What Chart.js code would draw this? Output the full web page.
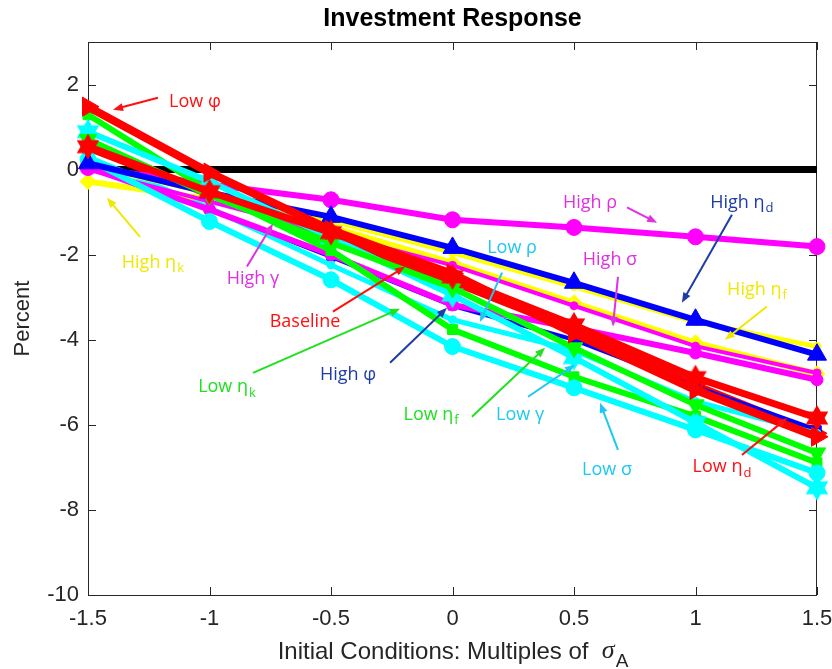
<!DOCTYPE html>
<html>
<head>
<meta charset="utf-8">
<title>Investment Response</title>
<script src="https://cdn.jsdelivr.net/npm/chart.js@4.4.1/dist/chart.umd.min.js"></script>
<style>
  html, body { margin: 0; padding: 0; background: #fff; }
  #wrap { width: 832px; height: 669px; }
</style>
</head>
<body>
<div id="wrap"><canvas id="invChart"></canvas></div>
<script>
// Initial conditions: multiples of sigma_A
const xValues = [-1.5, -1, -0.5, 0, 0.5, 1, 1.5];
const xTicks = [-1.5, -1, -0.5, 0, 0.5, 1, 1.5];
const yTicks = [-10, -8, -6, -4, -2, 0, 2];

// Investment response (percent), one array per experiment
const baseline  = [0.54, -0.52, -1.48, -2.52, -3.65, -4.89, -5.84];
const lowPhi    = [1.48, -0.07, -1.42, -2.45, -3.85, -5.18, -6.28];
const highPhi   = [0.12, -0.94, -2.05, -3.20, -4.00, -5.10, -6.12];
const highEtaD  = [0.15, -0.54, -1.11, -1.84, -2.66, -3.53, -4.35];
const lowEtaD   = [0.50, -0.60, -1.60, -2.65, -3.78, -5.05, -6.20];
const highRho   = [0.05, -0.35, -0.71, -1.18, -1.36, -1.58, -1.81];
const lowRho    = [0.30, -0.90, -2.24, -3.53, -4.25, -5.45, -6.20];
const highSigma = [0.00, -0.75, -1.50, -2.25, -3.20, -4.15, -4.78];
const lowSigma  = [0.24, -1.22, -2.59, -4.16, -5.13, -6.12, -7.13];
const highGamma = [0.05, -0.94, -2.00, -3.18, -3.72, -4.31, -4.94];
const lowGamma  = [0.89, -0.28, -1.60, -2.95, -4.42, -5.95, -7.48];
const highEtaK  = [-0.28, -0.70, -1.35, -2.19, -3.13, -4.07, -4.80];
const lowEtaK   = [0.71, -0.60, -1.72, -2.78, -4.19, -5.53, -6.66];
const highEtaF  = [0.10, -0.55, -1.20, -1.95, -2.75, -3.58, -4.16];
const lowEtaF   = [1.29, -0.50, -1.90, -3.76, -4.87, -5.80, -6.89];
const zeroLine  = [0, 0, 0, 0, 0, 0, 0];

const RED = "#ff0000", BLUE = "#0000ff", MAG = "#ff00ff",
      CYAN = "#00ffff", YEL = "#ffff00", GRN = "#00ff00";

// filled six point star, like matlab's hexagram marker
function hexagram(color, r) {
  const s = Math.ceil(r * 2 + 2);
  const c = document.createElement("canvas");
  c.width = s; c.height = s;
  const g = c.getContext("2d");
  g.translate(s / 2, s / 2);
  g.beginPath();
  for (let i = 0; i < 12; i++) {
    const a = -Math.PI / 2 + i * Math.PI / 6;
    const rr = i % 2 ? r * 0.58 : r;
    g.lineTo(rr * Math.cos(a), rr * Math.sin(a));
  }
  g.closePath();
  g.fillStyle = color;
  g.fill();
  return c;
}

// top-most first (chart.js draws dataset 0 last)
const series = [
  { label: "Low φ",     data: lowPhi,    color: RED,  width: 8, marker: "triangle", r: 11, rot: 90 },
  { label: "Baseline",  data: baseline,  color: RED,  width: 7, marker: hexagram(RED, 13), r: 12 },
  { label: "Low ηk",    data: lowEtaK,   color: GRN,  width: 6, marker: "triangle", r: 10, rot: 180 },
  { label: "Low γ",     data: lowGamma,  color: CYAN, width: 6, marker: hexagram(CYAN, 13), r: 12 },
  { label: "High ηd",   data: highEtaD,  color: BLUE, width: 6, marker: "triangle", r: 11 },
  { label: "Low σ",     data: lowSigma,  color: CYAN, width: 6, marker: "circle", r: 8 },
  { label: "Low ηf",    data: lowEtaF,   color: GRN,  width: 6, marker: "rect", r: 7 },
  { label: "High ρ",    data: highRho,   color: MAG,  width: 6, marker: "circle", r: 8 },
  { label: "High γ",    data: highGamma, color: MAG,  width: 6, marker: "circle", r: 6 },
  { label: "High σ",    data: highSigma, color: MAG,  width: 4, marker: "circle", r: 4 },
  { label: "High ηk",   data: highEtaK,  color: YEL,  width: 6, marker: "rectRot", r: 8 },
  { label: "High ηf",   data: highEtaF,  color: YEL,  width: 5, marker: "circle", r: 4 },
  { label: "Low ρ",     data: lowRho,    color: CYAN, width: 5, marker: "circle", r: 4 },
  { label: "High φ",    data: highPhi,   color: BLUE, width: 4, marker: "rect", r: 6 },
  { label: "Low ηd",    data: lowEtaD,   color: RED,  width: 6, marker: "triangle", r: 10, rot: 90 },
  { label: "zero",      data: zeroLine,  color: "#000000", width: 7, marker: "circle", r: 0 }
];

// text labels with arrows, in data units
const notes = [
  { t: "Low φ",    c: "#ff1010", at: [-1.06, 1.60],  from: [-1.212, 1.69],  to: [-1.397, 1.41] },
  { t: "High η", s: "k", c: "#f0e800", at: [-1.233, -2.19], from: [-1.286, -1.58], to: [-1.422, -0.66] },
  { t: "High γ",   c: "#e030e0", at: [-0.821, -2.56], from: [-0.846, -2.28], to: [-0.739, -1.27] },
  { t: "Baseline", c: "#ff1010", at: [-0.607, -3.58], from: [-0.492, -3.34], to: [-0.195, -2.28] },
  { t: "Low η", s: "k",  c: "#20e020", at: [-0.928, -5.11], from: [-0.821, -4.78], to: [-0.216, -3.27] },
  { t: "High φ",   c: "#1e3ca8", at: [-0.430, -4.82], from: [-0.257, -4.54], to: [-0.023, -3.25] },
  { t: "Low ρ",    c: "#1ec8f0", at: [0.245, -1.84],  from: [0.204, -2.42],  to: [0.113, -3.58] },
  { t: "High ρ",   c: "#e030e0", at: [0.566, -0.78],  from: [0.718, -0.89],  to: [0.842, -1.25] },
  { t: "High σ",   c: "#e030e0", at: [0.648, -2.12],  from: [0.681, -2.52],  to: [0.660, -3.69] },
  { t: "High η", s: "d", c: "#1e3ca8", at: [1.191, -0.78], from: [1.150, -1.06], to: [0.944, -3.13] },
  { t: "High η", s: "f", c: "#f0e800", at: [1.253, -2.82], from: [1.294, -3.22], to: [1.121, -4.00] },
  { t: "Low η", s: "f",  c: "#20e020", at: [-0.088, -5.76], from: [0.080, -5.81], to: [0.381, -4.19] },
  { t: "Low γ",    c: "#1ec8f0", at: [0.278, -5.76],  from: [0.311, -5.34],  to: [0.504, -4.59] },
  { t: "Low σ",    c: "#1ec8f0", at: [0.636, -7.06],  from: [0.681, -6.59],  to: [0.607, -5.48] },
  { t: "Low η", s: "d",  c: "#ff1010", at: [1.109, -6.99], from: [1.191, -6.71], to: [1.377, -5.84] }
];

const AXIS = "#262626";
const SANS = "'Liberation Sans', Arial, sans-serif";
const NOTEFONT = "18px 'Open Sans', sans-serif";
const SUBFONT = "13px 'Open Sans', sans-serif";

function drawArrow(g, x1, y1, x2, y2, color) {
  const a = Math.atan2(y2 - y1, x2 - x1);
  const hl = 10, hw = 4;
  g.strokeStyle = color;
  g.fillStyle = color;
  g.lineWidth = 2;
  g.beginPath();
  g.moveTo(x1, y1);
  g.lineTo(x2 - hl * 0.8 * Math.cos(a), y2 - hl * 0.8 * Math.sin(a));
  g.stroke();
  g.beginPath();
  g.moveTo(x2, y2);
  g.lineTo(x2 - hl * Math.cos(a) + hw * Math.sin(a), y2 - hl * Math.sin(a) - hw * Math.cos(a));
  g.lineTo(x2 - hl * Math.cos(a) - hw * Math.sin(a), y2 - hl * Math.sin(a) + hw * Math.cos(a));
  g.closePath();
  g.fill();
}

const frame = {
  id: "frame",
  beforeDatasetsDraw(chart) {
    const { ctx: g, chartArea: a, scales } = chart;
    g.save();
    g.strokeStyle = AXIS;
    g.lineWidth = 1;
    g.strokeRect(a.left + 0.5, a.top + 0.5, a.right - a.left - 1, a.bottom - a.top);
    g.beginPath();
    xTicks.forEach(v => {
      const px = Math.round(scales.x.getPixelForValue(v)) + 0.5;
      g.moveTo(px, a.bottom); g.lineTo(px, a.bottom - 8);
      g.moveTo(px, a.top); g.lineTo(px, a.top + 8);
    });
    yTicks.forEach(v => {
      const py = Math.round(scales.y.getPixelForValue(v)) + 0.5;
      g.moveTo(a.left, py); g.lineTo(a.left + 8, py);
      g.moveTo(a.right, py); g.lineTo(a.right - 8, py);
    });
    g.stroke();
    g.restore();
  },
  afterDraw(chart) {
    const { ctx: g, chartArea: a, scales } = chart;
    const cx = (a.left + a.right) / 2;
    g.save();
    // title
    g.fillStyle = "#000";
    g.font = "bold 25px " + SANS;
    g.textAlign = "center";
    g.textBaseline = "middle";
    g.fillText("Investment Response", cx, 19);

    // y title
    g.fillStyle = AXIS;
    g.font = "22px " + SANS;
    g.save();
    g.translate(23, (a.top + a.bottom) / 2);
    g.rotate(-Math.PI / 2);
    g.fillText("Percent", 0, 0);
    g.restore();

    // x title with sigma_A
    const main = "Initial Conditions: Multiples of  ";
    g.font = "24px " + SANS;
    const w1 = g.measureText(main).width;
    g.font = "italic 26px 'Liberation Serif', serif";
    const w2 = g.measureText("σ").width;
    g.font = "19px " + SANS;
    const w3 = g.measureText("A").width;
    const x0 = cx - (w1 + w2 + w3) / 2;
    const ty = 652;
    g.textAlign = "left";
    g.font = "24px " + SANS;
    g.fillText(main, x0, ty);
    g.font = "italic 26px 'Liberation Serif', serif";
    g.fillText("σ", x0 + w1, ty - 1);
    g.font = "19px " + SANS;
    g.fillText("A", x0 + w1 + w2 + 1, ty + 10);

    // annotations
    const X = v => scales.x.getPixelForValue(v);
    const Y = v => scales.y.getPixelForValue(v);
    notes.forEach(n => {
      drawArrow(g, X(n.from[0]), Y(n.from[1]), X(n.to[0]), Y(n.to[1]), n.c);
      g.fillStyle = n.c;
      g.font = NOTEFONT;
      const wm = g.measureText(n.t).width;
      g.font = SUBFONT;
      const ws = n.s ? g.measureText(n.s).width + 1 : 0;
      const lx = X(n.at[0]) - (wm + ws) / 2;
      const ly = Y(n.at[1]);
      g.textAlign = "left";
      g.textBaseline = "middle";
      g.font = NOTEFONT;
      g.fillText(n.t, lx, ly);
      if (n.s) {
        g.font = SUBFONT;
        g.fillText(n.s, lx + wm + 1, ly + 6);
      }
    });
    g.restore();
  }
};

new Chart(document.getElementById("invChart"), {
  type: "line",
  data: {
    datasets: series.map(s => ({
      label: s.label,
      data: xValues.map((x, i) => ({ x: x, y: s.data[i] })),
      borderColor: s.color,
      backgroundColor: s.color,
      borderWidth: s.width,
      pointStyle: s.marker,
      pointRadius: s.r,
      pointRotation: s.rot || 0,
      pointBorderColor: s.color,
      pointBackgroundColor: s.color,
      pointBorderWidth: 1,
      tension: 0,
      clip: false
    }))
  },
  options: {
    responsive: true,
    maintainAspectRatio: false,
    animation: false,
    events: [],
    layout: { padding: { top: 42, right: 15, left: 0, bottom: 0 } },
    plugins: {
      legend: { display: false },
      title: { display: false },
      tooltip: { enabled: false }
    },
    scales: {
      x: {
        type: "linear",
        min: -1.5,
        max: 1.5,
        grid: { display: false, drawTicks: false },
        border: { display: false },
        afterBuildTicks: sc => { sc.ticks = xTicks.map(v => ({ value: v })); },
        afterFit: sc => { sc.height = 74; sc.paddingLeft = 0; sc.paddingRight = 0; },
        ticks: {
          color: AXIS, font: { family: SANS, size: 22 }, padding: 11,
          maxRotation: 0, autoSkip: false,
          callback: v => String(v)
        }
      },
      y: {
        type: "linear",
        min: -10,
        max: 3,
        grid: { display: false, drawTicks: false },
        border: { display: false },
        afterBuildTicks: sc => { sc.ticks = yTicks.map(v => ({ value: v })); },
        afterFit: sc => { sc.width = 88; sc.paddingTop = 0; sc.paddingBottom = 0; },
        ticks: { color: AXIS, font: { family: SANS, size: 22 }, padding: 9, callback: v => String(v) }
      }
    }
  },
  plugins: [frame]
});
</script>
</body>
</html>
